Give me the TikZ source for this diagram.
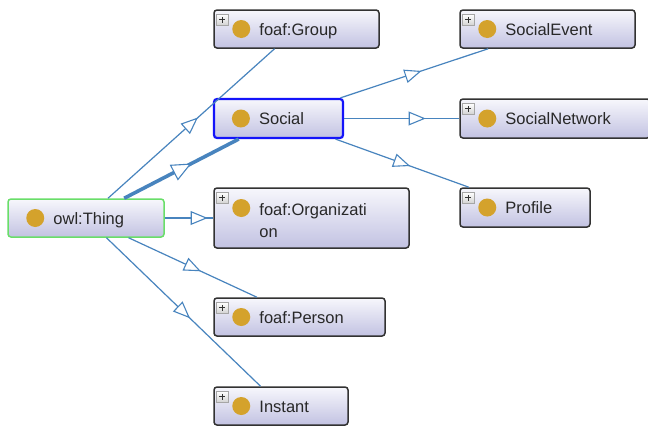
\documentclass[tikz,border=0pt]{standalone}
\usepackage{fontspec}
\setmainfont{Liberation Sans}
\usetikzlibrary{decorations.markings}
\definecolor{boxtop}{RGB}{247,247,252}
\definecolor{boxbot}{RGB}{194,194,226}
\definecolor{boxline}{RGB}{50,50,50}
\definecolor{thinggreen}{RGB}{105,222,105}
\definecolor{selblue}{RGB}{20,20,250}
\definecolor{gold}{RGB}{212,162,44}
\definecolor{txt}{RGB}{40,40,40}
\definecolor{edgeblue}{RGB}{72,132,190}
\tikzset{
  box/.style={rectangle, rounded corners=3pt, draw=boxline, line width=1.5pt,
    top color=boxtop, bottom color=boxbot, inner sep=0pt},
  thingbox/.style={draw=thinggreen, line width=1.5pt},
  socialbox/.style={draw=selblue, line width=2.2pt},
  lbl/.style={inner sep=0pt, text=txt, font=\fontsize{16.5}{22}\selectfont},
  edge/.style={draw=edgeblue, line width=1.2pt},
  thickedge/.style={draw=edgeblue, line width=3.6pt},
  midarr/.style={decorate, decoration={markings, mark=at position 0.5 with
    {\draw[edgeblue, fill=white, line width=1.1pt, line join=miter] (7.5,0) -- (-7.5,6.2) -- (-7.5,-6.2) -- cycle;}}},
  bigarr/.style={decorate, decoration={markings, mark=at position 0.5 with
    {\draw[edgeblue, fill=white, line width=1.1pt, line join=miter] (9,0) -- (-9,8) -- (-9,-8) -- cycle;}}},
  plusbox/.style={draw=gray!70, line width=0.6pt, top color=white, bottom color=gray!35}
}
\newcommand\onode[7]{%
  \node[box,#6,minimum width=#4pt,minimum height=#5pt] (#1) at (#2,#3) {};
  \fill[gold] ([xshift=28pt]#1.west) circle (9pt);
  \node[lbl, anchor=base west] (#1-t) at ([xshift=46pt,yshift=-6pt]#1.west) {#7};
}
\newcommand\plusicon[1]{%
  \draw[plusbox] ([xshift=3pt,yshift=-5pt]#1.north west) rectangle ++(12,11);
  \draw[black!80, line width=1pt] ([xshift=6pt,yshift=-10.5pt]#1.north west) -- ++(6,0)
    ([xshift=9pt,yshift=-7.5pt]#1.north west) -- ++(0,6);
}
\begin{document}
\begin{tikzpicture}[x=1pt,y=-1pt]
\useasboundingbox (0,0) rectangle (648,426);
\fill[white] (0,0) rectangle (648,426);
% nodes
\onode{thing}{86}{218}{156}{38}{thingbox}{owl:Thing}
\onode{group}{296.5}{29}{165}{38}{}{foaf:Group}
\onode{social}{278.5}{118.5}{129}{39}{socialbox}{Social}
\onode{event}{547.5}{29}{175}{38}{}{SocialEvent}
\onode{network}{555}{118.5}{190}{39}{}{SocialNetwork}
\onode{profile}{525}{207.5}{130}{39}{}{Profile}
\onode{person}{299.5}{317}{171}{38}{}{foaf:Person}
\onode{instant}{281}{406}{134}{38}{}{Instant}
\node[box,minimum width=195pt,minimum height=60pt] (org) at (311.5,218) {};
\fill[gold] ([xshift=28pt,yshift=10pt]org.west) circle (9pt);
\node[lbl, anchor=base west] (org-t) at ([xshift=46pt,yshift=3pt]org.west) {foaf:Organizati};
\node[lbl, anchor=base west] (org-t2) at ([xshift=46pt,yshift=-19pt]org.west) {on};
\plusicon{group}
\plusicon{event}
\plusicon{network}
\plusicon{profile}
\plusicon{org}
\plusicon{person}
\plusicon{instant}
% edges
\draw[edge] (thing) -- (group);
\draw[thickedge] (thing) -- (social);
\draw[edge] (thing) -- (org);
\draw[edge] (thing) -- (person);
\draw[edge] (thing) -- (instant);
\draw[edge] (social) -- (event);
\draw[edge] (social) -- (network);
\draw[edge] (social) -- (profile);
\path[midarr] (thing.center) -- (group.center);
\path[bigarr] (thing.center) -- (social.center);
\path[midarr] (thing.center) -- (org.center);
\path[midarr] (thing.center) -- (person.center);
\path[midarr] (thing.center) -- (instant.center);
\path[midarr] (social.center) -- (event.center);
\path[midarr] (social.center) -- (network.center);
\path[midarr] (social.center) -- (profile.center);
\end{tikzpicture}
\end{document}
